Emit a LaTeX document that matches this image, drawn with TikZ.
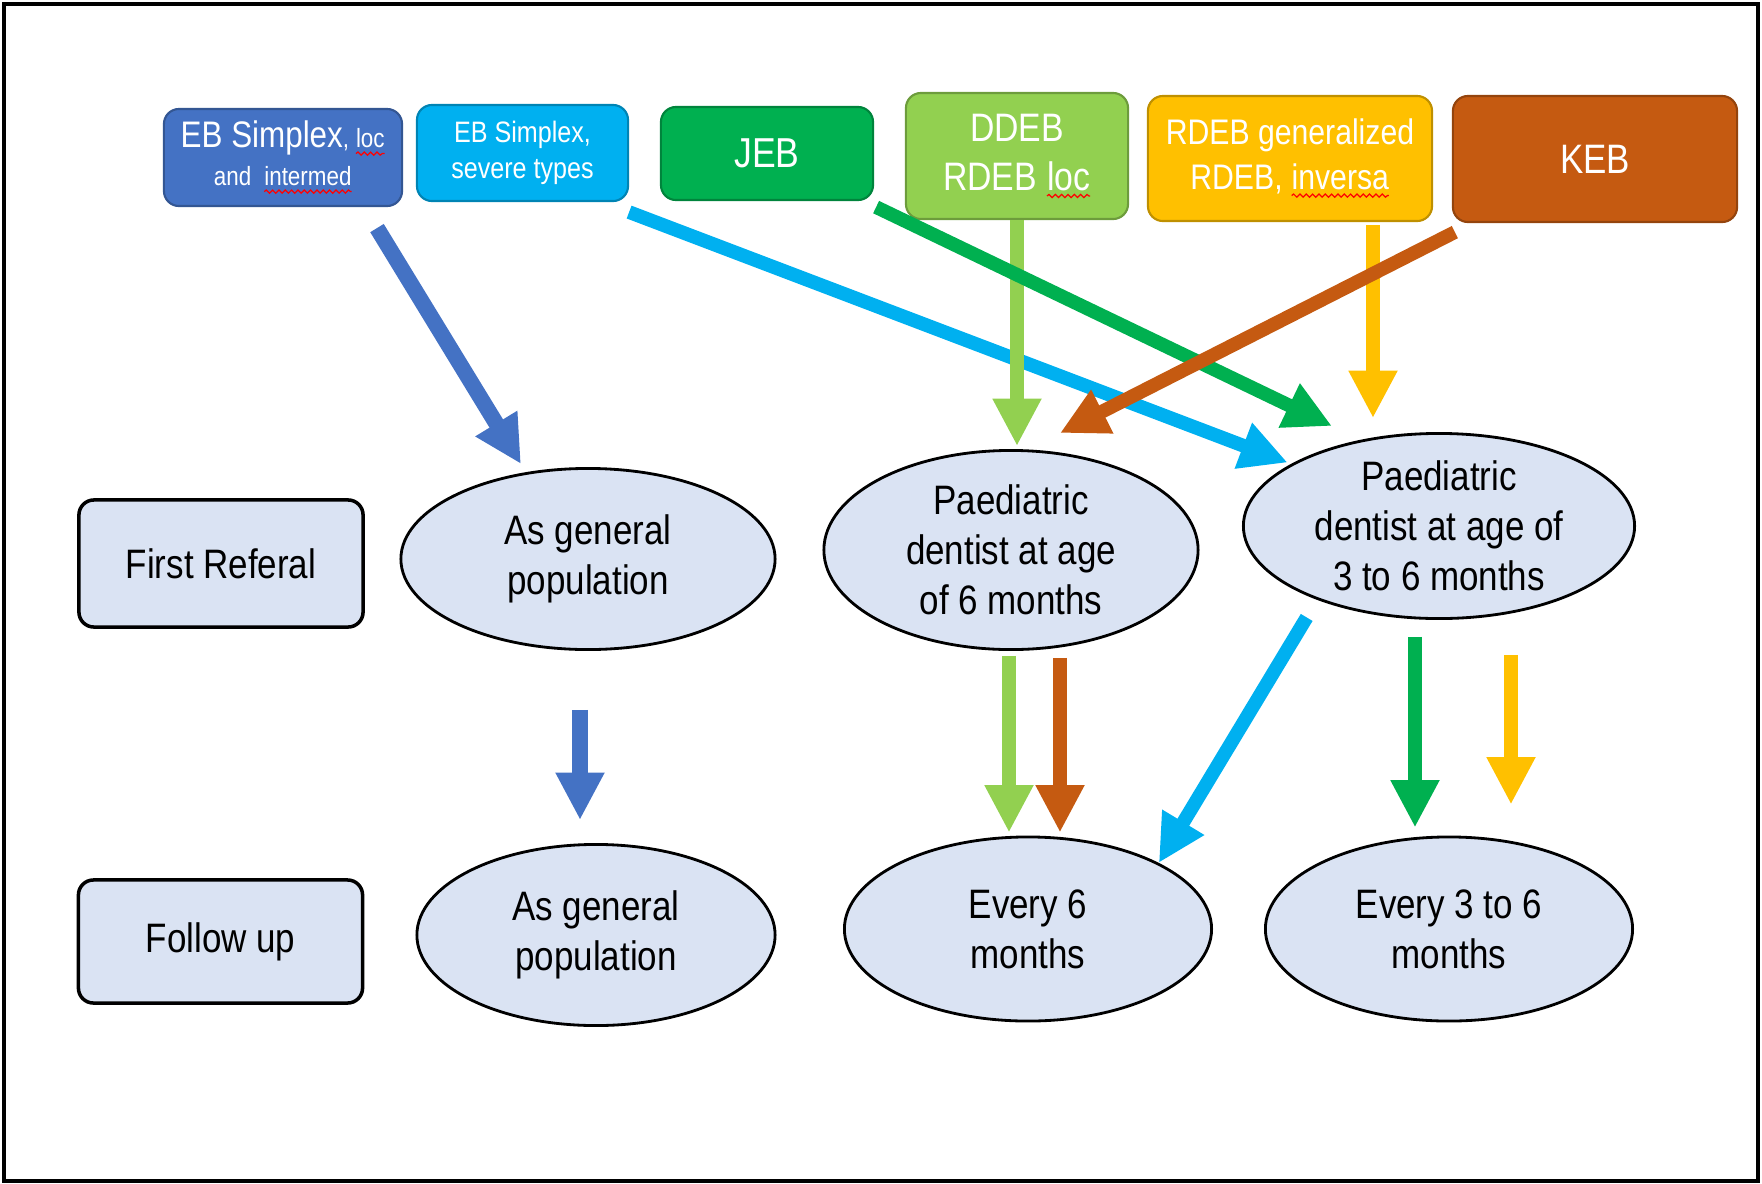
\documentclass[tikz,border=0pt]{standalone}
\usepackage{fontspec}
\setmainfont{Liberation Sans}[FakeStretch=0.85]
\usetikzlibrary{arrows.meta}
\usetikzlibrary{calc}
\usetikzlibrary{shapes.geometric}
\usetikzlibrary{decorations.pathmorphing}
\definecolor{ebsblue}{HTML}{4472C4}
\definecolor{skyblue}{HTML}{00B0F0}
\definecolor{jebgreen}{HTML}{00B050}
\definecolor{limegreen}{HTML}{92D050}
\definecolor{gold}{HTML}{FFC000}
\definecolor{rust}{HTML}{C55A11}
\definecolor{paleblue}{HTML}{DAE3F3}
\newcommand{\fs}[2]{\fontsize{#1}{#2}\selectfont}
% red spell-check wave under a word
\newcommand{\spellmark}[1]{\tikz[baseline=(w.base)]{%
    \node[shape=rectangle, draw=none, fill=none, inner sep=0pt, outer sep=0pt,
        minimum width=0pt, minimum height=0pt] (w) {#1};
    \draw[red, line width=0.35pt, sharp corners, decorate,
        decoration={snake, amplitude=0.45pt, segment length=1.8pt}]
        ([yshift=-1.6pt]w.base west) -- ([yshift=-1.6pt]w.base east);}}

\begin{document}
\begin{tikzpicture}[
    x=0.01cm, y=-0.01cm,
    typebox/.style={rectangle, rounded corners=0.15cm, fill=#1, draw=#1!75!black,
        line width=0.6pt, text=white, align=center, inner sep=0pt},
    rowlabel/.style={rectangle, rounded corners=0.15cm, draw=black, line width=1pt,
        fill=paleblue, minimum width=2.84cm, font=\fs{11.7}{14.2}},
    oval/.style={ellipse, draw=black, line width=0.8pt, fill=paleblue,
        align=center, inner sep=0pt, font=\fs{11.7}{14.2}},
    flow/.style={line width=3.9pt, -{Triangle[width=13pt,length=13.5pt]}},
    thick flow/.style={flow, line width=4.5pt}
    ]

    \useasboundingbox (0,0) rectangle (1762,1184);
    \draw[line width=1.1pt] (4,4) rectangle (1758,1181);

    % EB types
    \node[typebox=ebsblue, minimum width=2.38cm, minimum height=0.97cm,
        font=\fs{7.5}{10.8}] (ebs) at (283,157.5)
        {{\fs{10.5}{10.8}EB Simplex}, \spellmark{loc}\\and\ \ \spellmark{intermed}};
    \node[typebox=skyblue, minimum width=2.11cm, minimum height=0.96cm,
        font=\fs{8.4}{10.2}] (ebsev) at (522.5,153) {EB Simplex,\\severe types};
    \node[typebox=jebgreen, minimum width=2.12cm, minimum height=0.93cm,
        font=\fs{11.9}{14}] (jeb) at (767,153.5) {JEB};
    \node[typebox=limegreen, minimum width=2.22cm, minimum height=1.26cm,
        font=\fs{11.3}{14}] (ddeb) at (1017,156) {DDEB\\RDEB \spellmark{loc}};
    \node[typebox=gold, minimum width=2.84cm, minimum height=1.25cm,
        font=\fs{10.1}{12.8}] (rdeb) at (1290,158.5)
        {RDEB generalized\\RDEB, \spellmark{inversa}};
    \node[typebox=rust, minimum width=2.84cm, minimum height=1.26cm,
        font=\fs{11.7}{14}] (keb) at (1595,159) {KEB};

    % first referral
    \node[rowlabel, minimum height=1.27cm] (first) at (221,563.5) {First Referal};
    \node[oval, minimum width=3.74cm, minimum height=1.81cm] (gen1) at (588,559)
        {As general\\population};
    \node[oval, minimum width=3.74cm, minimum height=1.99cm] (ped6) at (1011,550)
        {Paediatric\\dentist at age\\of 6 months};
    \node[oval, minimum width=3.91cm, minimum height=1.85cm] (ped36) at (1439,526)
        {Paediatric\\dentist at age of\\3 to 6 months};

    % follow up
    \node[rowlabel, minimum height=1.23cm] (follow) at (220.5,941.5) {Follow up};
    \node[oval, minimum width=3.58cm, minimum height=1.81cm] (gen2) at (596,935)
        {As general\\population};
    \node[oval, minimum width=3.67cm, minimum height=1.84cm] (ev6) at (1028,929)
        {Every 6\\months};
    \node[oval, minimum width=3.67cm, minimum height=1.84cm] (ev36) at (1449,929)
        {Every 3 to 6\\months};

    % arrows to first referral
    \draw[thick flow, ebsblue] ($(ebs.south)+(94,21)$) -- ($(gen1.north)+(-67,-3)$);
    \draw[flow, skyblue] ($(ebsev.south east)+(0,10)$) -- ($(ped36.north west)+(-12,3)$);
    \draw[flow, limegreen] (ddeb.south) -- ($(ddeb.south |- ped6.north)+(0,-3)$);
    \draw[flow, jebgreen] ($(jeb.south east)+(2,6)$) -- ($(ped36.north)+(-107,-6)$);
    \draw[flow, gold] ($(rdeb.south)+(83,3)$) -- ($(rdeb.south)+(83,196)$);
    \draw[flow, rust] ($(keb.south west)+(3,9)$) -- ($(ped6.north)+(49,-16)$);

    % arrows to follow up
    \draw[thick flow, ebsblue] ($(gen1.south)+(-8,59)$) -- ($(gen2.north)+(-16,-23)$);
    \draw[flow, limegreen] ($(ped6.south)+(-2,5)$) -- ($(ev6.north)+(-19,-3)$);
    \draw[flow, rust] ($(ped6.south)+(49,7)$) -- ($(ev6.north)+(32,-3)$);
    \draw[flow, skyblue] ($(ped36.south west)+(7,25)$) -- (ev6.north east);
    \draw[flow, jebgreen] ($(ped36.south)+(-24,17)$) -- ($(ev36.north)+(-34,-8)$);
    \draw[flow, gold] ($(ped36.south)+(72,35)$) -- ($(ev36.north)+(62,-31)$);
\end{tikzpicture}
\end{document}
